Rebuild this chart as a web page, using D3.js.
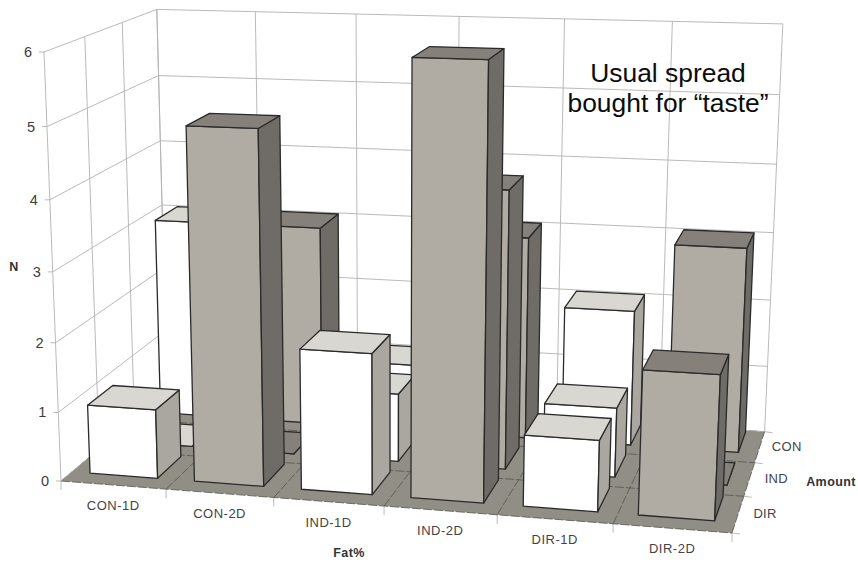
<!DOCTYPE html>
<html>
<head>
<meta charset="utf-8">
<script src="https://cdnjs.cloudflare.com/ajax/libs/d3/7.8.5/d3.min.js"></script>
<style>
  html, body { margin: 0; padding: 0; background: #fff; }
  svg { display: block; }
  text { font-family: "Liberation Sans", Arial, sans-serif; }
</style>
</head>
<body>
<svg id="chart" width="858" height="562"></svg>
<script>
// Survey counts per fat/amount category, split by the amount row in depth.
const categories = ["CON-1D", "CON-2D", "IND-1D", "IND-2D", "DIR-1D", "DIR-2D"];
const rows = ["DIR", "IND", "CON"];          // front to back
const valuesDIR = [1, 5, 2, 6, 1, 2];
const valuesIND = [0, 0, 1, 4, 1, 0];
const valuesCON = [3, 3, 1, 3, 2, 3];
const valueTicks = [0, 1, 2, 3, 4, 5, 6];
const seriesByRow = { DIR: valuesDIR, IND: valuesIND, CON: valuesCON };

// Corners of the chart box on the page: x along categories, z into depth, v up.
const cornerO = [61, 481], cornerX = [732, 533], cornerZ = [167, 392], cornerV = [44, 52];
const anchors = [
  { p: [1, 1, 0], at: [763, 427] },
  { p: [0, 1, 1], at: [160, 7] },
  { p: [1, 1, 1], at: [780, 25] },
  { p: [0.5, 0, 0], at: [386, 507] },
  { p: [0.5, 1, 1], at: [461, 16] },
  { p: [1 / 6, 1, 1], at: [259, 10] },
  { p: [1 / 3, 1, 1], at: [359, 13] },
  { p: [0, 0, 0.5], at: [53, 270] },
  { p: [0, 1, 0.5], at: [165, 200] },
  { p: [1, 1, 0.5], at: [771, 230] },
  { p: [0, 1 / 3, 1], at: [87, 35] },
  { p: [0, 2 / 3, 1], at: [125, 20] },
  { p: [1, 1 / 3, 0], at: [743, 494] },
  { p: [1, 2 / 3, 0], at: [753, 459] }
];

// Fit the perspective divisor w = 1 + a*x + b*z + c*v by least squares.
function fitDivisor() {
  const A = [], B = [];
  anchors.forEach(({ p: [x, z, v], at }) => {
    [0, 1].forEach(k => {
      A.push([x * (cornerX[k] - at[k]), z * (cornerZ[k] - at[k]), v * (cornerV[k] - at[k])]);
      B.push(at[k] - cornerO[k] - x * (cornerX[k] - cornerO[k]) - z * (cornerZ[k] - cornerO[k]) - v * (cornerV[k] - cornerO[k]));
    });
  });
  const M = [0, 1, 2].map(i => [0, 1, 2].map(j => d3.sum(A, r => r[i] * r[j])).concat(d3.sum(A, (r, n) => r[i] * B[n])));
  for (let i = 0; i < 3; i++) {
    const piv = M[i][i];
    for (let j = i; j < 4; j++) M[i][j] /= piv;
    for (let r = 0; r < 3; r++) {
      if (r === i) continue;
      const f = M[r][i];
      for (let j = i; j < 4; j++) M[r][j] -= f * M[i][j];
    }
  }
  return M.map(r => r[3]);
}
const [wa, wb, wc] = fitDivisor();

function project(x, z, v) {
  const w = 1 + wa * x + wb * z + wc * v;
  return [0, 1].map(k =>
    (cornerO[k]
      + x * (cornerX[k] * (1 + wa) - cornerO[k])
      + z * (cornerZ[k] * (1 + wb) - cornerO[k])
      + v * (cornerV[k] * (1 + wc) - cornerO[k])) / w);
}

const xCell = d3.scaleBand().domain(categories).range([0, 1]);
const zCell = d3.scaleBand().domain(rows).range([0, 1]);
const vScale = d3.scaleLinear().domain([0, 6]).range([0, 1]);

// Footprint of a bar inside its cell, as fractions of the cell.
const barX = [0.175, 0.825], barZ = [0.28, 0.95];

const colors = {
  "1D": { front: "#ffffff", top: "#d9d7d1", side: "#a9a79f" },
  "2D": { front: "#b0aca4", top: "#85817a", side: "#6f6b66" }
};
const ink = "#2b2a2a";

const svg = d3.select("#chart");
const poly = d3.line().curve(d3.curveLinearClosed);
const seg = d3.line();

function drawSegment(parent, a, b, stroke, width, dash) {
  parent.append("path").attr("d", seg([a, b])).attr("fill", "none")
    .attr("stroke", stroke).attr("stroke-width", width)
    .attr("stroke-dasharray", dash || null);
}

// Floor plate
const gridG = svg.append("g");
gridG.append("path")
  .attr("d", poly([project(0, 0, 0), project(1, 0, 0), project(1, 1, 0), project(0, 1, 0)]))
  .attr("fill", "#918e86");

// Floor grid, with ticks running past the front and right edges
const gridInk = "#b2b2b0";
const xEdges = categories.map(c => xCell(c)).concat(1);
const zEdges = rows.map(r => zCell(r)).concat(1);
xEdges.forEach(x => {
  drawSegment(gridG, project(x, 0, 0), project(x, 1, 0), "#56544f", 0.8, "9 2");
  const p = project(x, 0, 0);
  drawSegment(gridG, p, [p[0], p[1] + 9], gridInk, 0.9);
});
zEdges.forEach(z => {
  drawSegment(gridG, project(0, z, 0), project(1, z, 0), "#56544f", 0.8, "9 2");
  const p = project(1, z, 0);
  drawSegment(gridG, p, [p[0] + 8, p[1] + 1], gridInk, 0.9);
});

// Left and back walls
valueTicks.forEach(t => {
  const v = vScale(t);
  const left = project(0, 0, v);
  drawSegment(gridG, [left[0] - 5, left[1]], left, gridInk, 0.9);
  drawSegment(gridG, left, project(0, 1, v), gridInk, 0.9);
  drawSegment(gridG, project(0, 1, v), project(1, 1, v), gridInk, 0.9);
  svg.append("text").attr("x", left[0] - 16).attr("y", left[1] + 5)
    .attr("text-anchor", "middle").attr("font-size", 14.5).attr("fill", "#3c3c3c").text(t);
});
zEdges.forEach(z => drawSegment(gridG, project(0, z, 0), project(0, z, 1), gridInk, 0.9));
xEdges.forEach(x => drawSegment(gridG, project(x, 1, 0), project(x, 1, 1), gridInk, 0.9));

// Bars, painted back to front and left to right within a row
const barsG = svg.append("g");
rows.slice().reverse().forEach(row => {
  categories.forEach((cat, i) => {
    const value = seriesByRow[row][i];
    const palette = colors[cat.slice(-2)];
    const bw = xCell.bandwidth(), bd = zCell.bandwidth();
    const x0 = xCell(cat) + barX[0] * bw, x1 = xCell(cat) + barX[1] * bw;
    const z0 = zCell(row) + barZ[0] * bd, z1 = zCell(row) + barZ[1] * bd;
    const v = vScale(value);
    const faces = [
      { pts: [[x0, z0, 0], [x1, z0, 0], [x1, z0, v], [x0, z0, v]], fill: palette.front },
      { pts: [[x1, z0, 0], [x1, z1, 0], [x1, z1, v], [x1, z0, v]], fill: palette.side },
      { pts: [[x0, z0, v], [x1, z0, v], [x1, z1, v], [x0, z1, v]], fill: palette.top }
    ];
    faces.forEach(f => {
      barsG.append("path")
        .attr("d", poly(f.pts.map(p => project(...p))))
        .attr("fill", f.fill).attr("stroke", ink)
        .attr("stroke-width", 1.3).attr("stroke-linejoin", "round");
    });
  });
});

// Axis labels
categories.forEach(cat => {
  const p = project(xCell(cat) + xCell.bandwidth() / 2, 0, 0);
  svg.append("text").attr("x", p[0]).attr("y", p[1] + 25)
    .attr("text-anchor", "middle").attr("font-size", 13).attr("letter-spacing", 0.5)
    .attr("fill", "#444").text(cat);
});
rows.forEach(row => {
  const p = project(1, zCell(row) + zCell.bandwidth() / 2, 0);
  svg.append("text").attr("x", p[0] + 27).attr("y", p[1] + 4)
    .attr("text-anchor", "middle").attr("font-size", 13).attr("letter-spacing", 0.3)
    .attr("fill", "#444").text(row);
});

const titles = [
  { label: "N", x: 14, y: 271 },
  { label: "Fat%", x: 349, y: 557 },
  { label: "Amount", x: 831, y: 486 }
];
titles.forEach(t => {
  svg.append("text").attr("x", t.x).attr("y", t.y).attr("text-anchor", "middle")
    .attr("font-size", 12.5).attr("font-weight", "bold").attr("letter-spacing", 0.4)
    .attr("fill", "#333").text(t.label);
});

// Caption inside the plot
const caption = ["Usual spread", "bought for \u201ctaste\u201d"];
caption.forEach((line, i) => {
  svg.append("text").attr("x", 668).attr("y", 82 + i * 30)
    .attr("text-anchor", "middle").attr("font-size", 26.4).attr("fill", "#0c0c0c").text(line);
});
</script>
</body>
</html>
